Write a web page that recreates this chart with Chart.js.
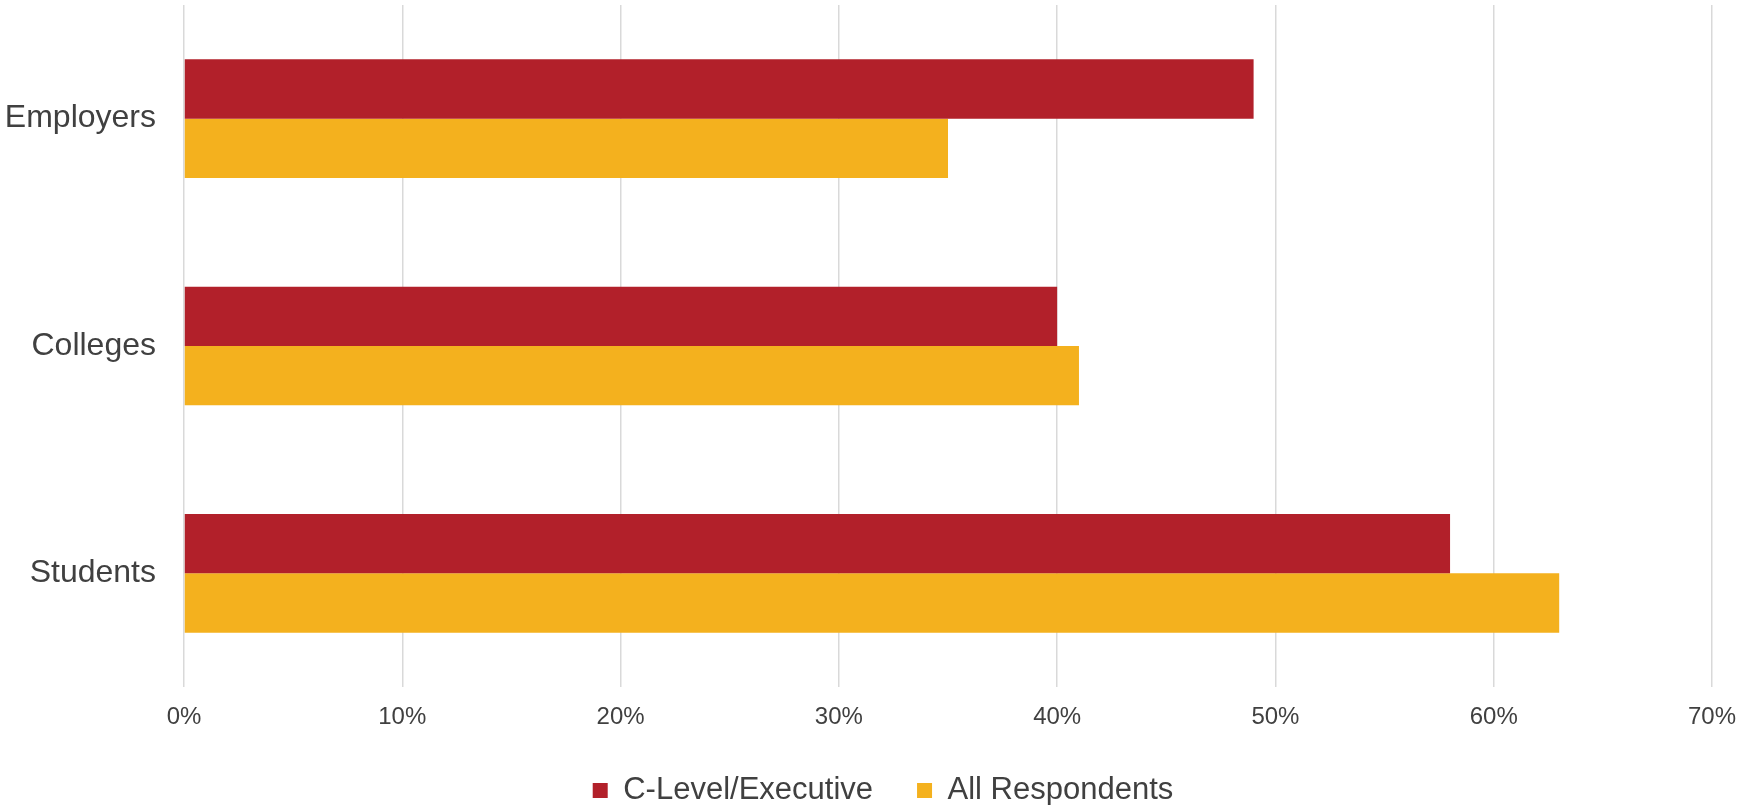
<!DOCTYPE html>
<html>
<head>
<meta charset="utf-8">
<title>Grafico</title>
<script src="https://cdn.jsdelivr.net/npm/chart.js@4"></script>
<style>
  body { margin: 0; background: #ffffff; }
  #contenedor { width: 1738px; height: 805px; }
</style>
</head>
<body>
<div id="contenedor">
  <canvas id="myChart" width="1738" height="805"></canvas>
</div>
<script>
const categorias = ['Employers', 'Colleges', 'Students'];
const ejecutivos = [49, 40, 58];
const todos = [35, 41, 63];
const ticksX = [0, 10, 20, 30, 40, 50, 60, 70];

const colorTexto = '#404040';
const fuente = '"Liberation Sans", Arial, sans-serif';

const myChartCtx = document.querySelector('#myChart').getContext('2d');

// corre la leyenda un poco a la derecha
const moverLeyenda = {
    id: 'moverLeyenda',
    afterLayout(chart) {
        chart.legend.left += 14;
        chart.legend.right += 14;
    }
};

const myChart = new Chart(myChartCtx, {
    type: 'bar',
    data: {
        labels: categorias,
        datasets: [{
            label: 'C-Level/Executive',
            data: ejecutivos,
            backgroundColor: '#B2202A',
            borderWidth: 0
        }, {
            label: 'All Respondents',
            data: todos,
            backgroundColor: '#F4B11E',
            borderWidth: 0
        }]
    },
    plugins: [moverLeyenda],
    options: {
        indexAxis: 'y',
        responsive: false,
        animation: false,
        datasets: {
            bar: { categoryPercentage: 0.522, barPercentage: 1 }
        },
        layout: {
            padding: { top: 5, left: 0, right: 0, bottom: 0 }
        },
        scales: {
            x: {
                min: ticksX[0],
                max: ticksX[ticksX.length - 1],
                afterBuildTicks: (scale) => {
                    scale.ticks = ticksX.map(v => ({ value: v }));
                },
                // alto fijo y margen a la derecha para que quepa "70%"
                afterFit: (scale) => {
                    scale.height = 44;
                    scale.paddingLeft = 0;
                    scale.paddingRight = 26;
                },
                grid: { color: '#d9d9d9', lineWidth: 1.5, drawTicks: false },
                border: { display: false },
                ticks: {
                    padding: 16,
                    color: colorTexto,
                    font: { family: fuente, size: 24 },
                    callback: (v) => v + '%'
                }
            },
            y: {
                grid: { display: false, drawTicks: false },
                border: { display: false },
                afterFit: (scale) => {
                    scale.width = 184;
                    scale.paddingTop = 0;
                    scale.paddingBottom = 0;
                },
                ticks: {
                    padding: 28,
                    color: colorTexto,
                    font: { family: fuente, size: 32 }
                }
            }
        },
        plugins: {
            tooltip: { enabled: false },
            legend: {
                position: 'bottom',
                maxHeight: 74,
                labels: {
                    boxWidth: 15,
                    boxHeight: 15,
                    padding: 44,
                    color: colorTexto,
                    font: { family: fuente, size: 31 }
                }
            }
        }
    }
});
</script>
</body>
</html>
